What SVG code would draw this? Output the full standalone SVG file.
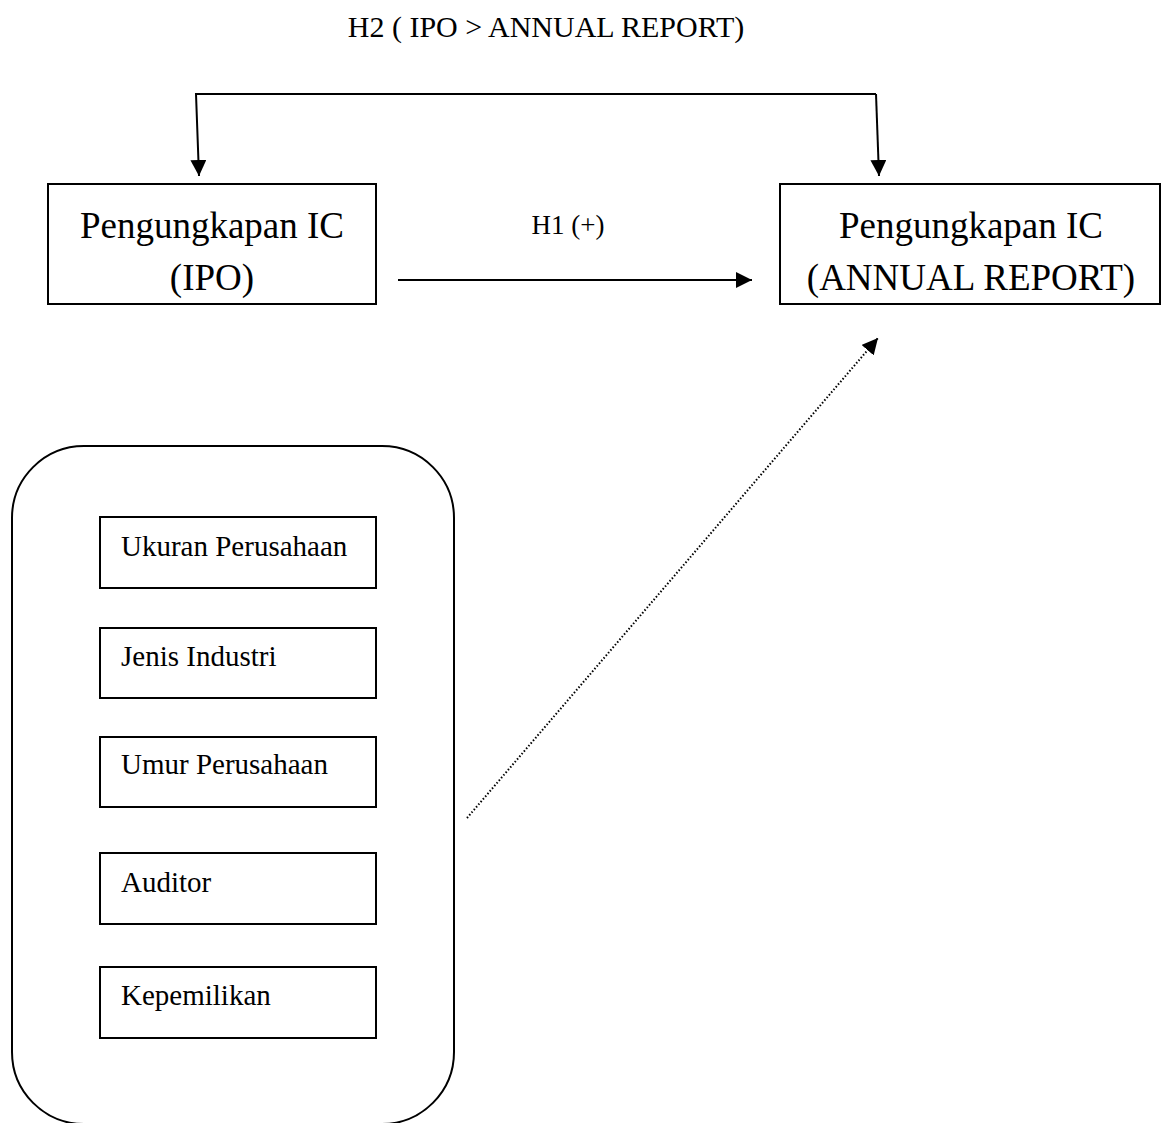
<svg xmlns="http://www.w3.org/2000/svg" width="1161" height="1123" viewBox="0 0 1161 1123">
<style>
text{font-family:"Liberation Serif","Times New Roman",serif;fill:#000}
.big{font-size:37px}
.title{font-size:30px}
.lbl{font-size:27px}
.small{font-size:29px}
.box{fill:#fff;stroke:#000;stroke-width:2}
.con{fill:none;stroke:#000;stroke-width:2}
</style>
<defs>
<marker id="ahb" viewBox="0 0 10 10" refX="10" refY="5" markerWidth="16" markerHeight="16" markerUnits="userSpaceOnUse" orient="auto">
<path d="M0,0 L10,5 L0,10 z" fill="#000"/>
</marker>
</defs>
<rect width="1161" height="1123" fill="#fff"/>
<text id="title" class="title" x="546" y="37" text-anchor="middle">H2 ( IPO &gt; ANNUAL REPORT)</text>
<text id="h1label" class="lbl" x="568" y="234" text-anchor="middle">H1 (+)</text>
<g id="ipo">
<rect class="box" x="48" y="184" width="328" height="120"/>
<text class="big" x="212" y="238" text-anchor="middle">Pengungkapan IC</text>
<text class="big" x="212" y="290" text-anchor="middle">(IPO)</text>
</g>
<g id="annual">
<rect class="box" x="780" y="184" width="380" height="120"/>
<text class="big" x="971" y="238" text-anchor="middle">Pengungkapan IC</text>
<text class="big" x="971" y="290" text-anchor="middle">(ANNUAL REPORT)</text>
</g>
<g id="controls">
<rect class="box" x="12" y="446" width="442" height="678" rx="72" ry="72"/>
<g id="ukuran"><rect class="box" x="100" y="517" width="276" height="71"/><text class="small" x="121" y="556">Ukuran Perusahaan</text></g>
<g id="jenis"><rect class="box" x="100" y="628" width="276" height="70"/><text class="small" x="121" y="666">Jenis Industri</text></g>
<g id="umur"><rect class="box" x="100" y="737" width="276" height="70"/><text class="small" x="121" y="774">Umur Perusahaan</text></g>
<g id="auditor"><rect class="box" x="100" y="853" width="276" height="71"/><text class="small" x="121" y="892">Auditor</text></g>
<g id="kepemilikan"><rect class="box" x="100" y="967" width="276" height="71"/><text class="small" x="121" y="1005">Kepemilikan</text></g>
</g>
<g id="connectors">
<path class="con" d="M876,94 L196,94 L199,176" marker-end="url(#ahb)"/>
<path class="con" d="M876,94 L879,176" marker-end="url(#ahb)"/>
<line class="con" x1="398" y1="280" x2="752" y2="280" marker-end="url(#ahb)"/>
<line class="con" x1="467" y1="818" x2="878" y2="338" stroke-dasharray="1.5,2" stroke-width="1.5" marker-end="url(#ahb)"/>
</g>
</svg>
